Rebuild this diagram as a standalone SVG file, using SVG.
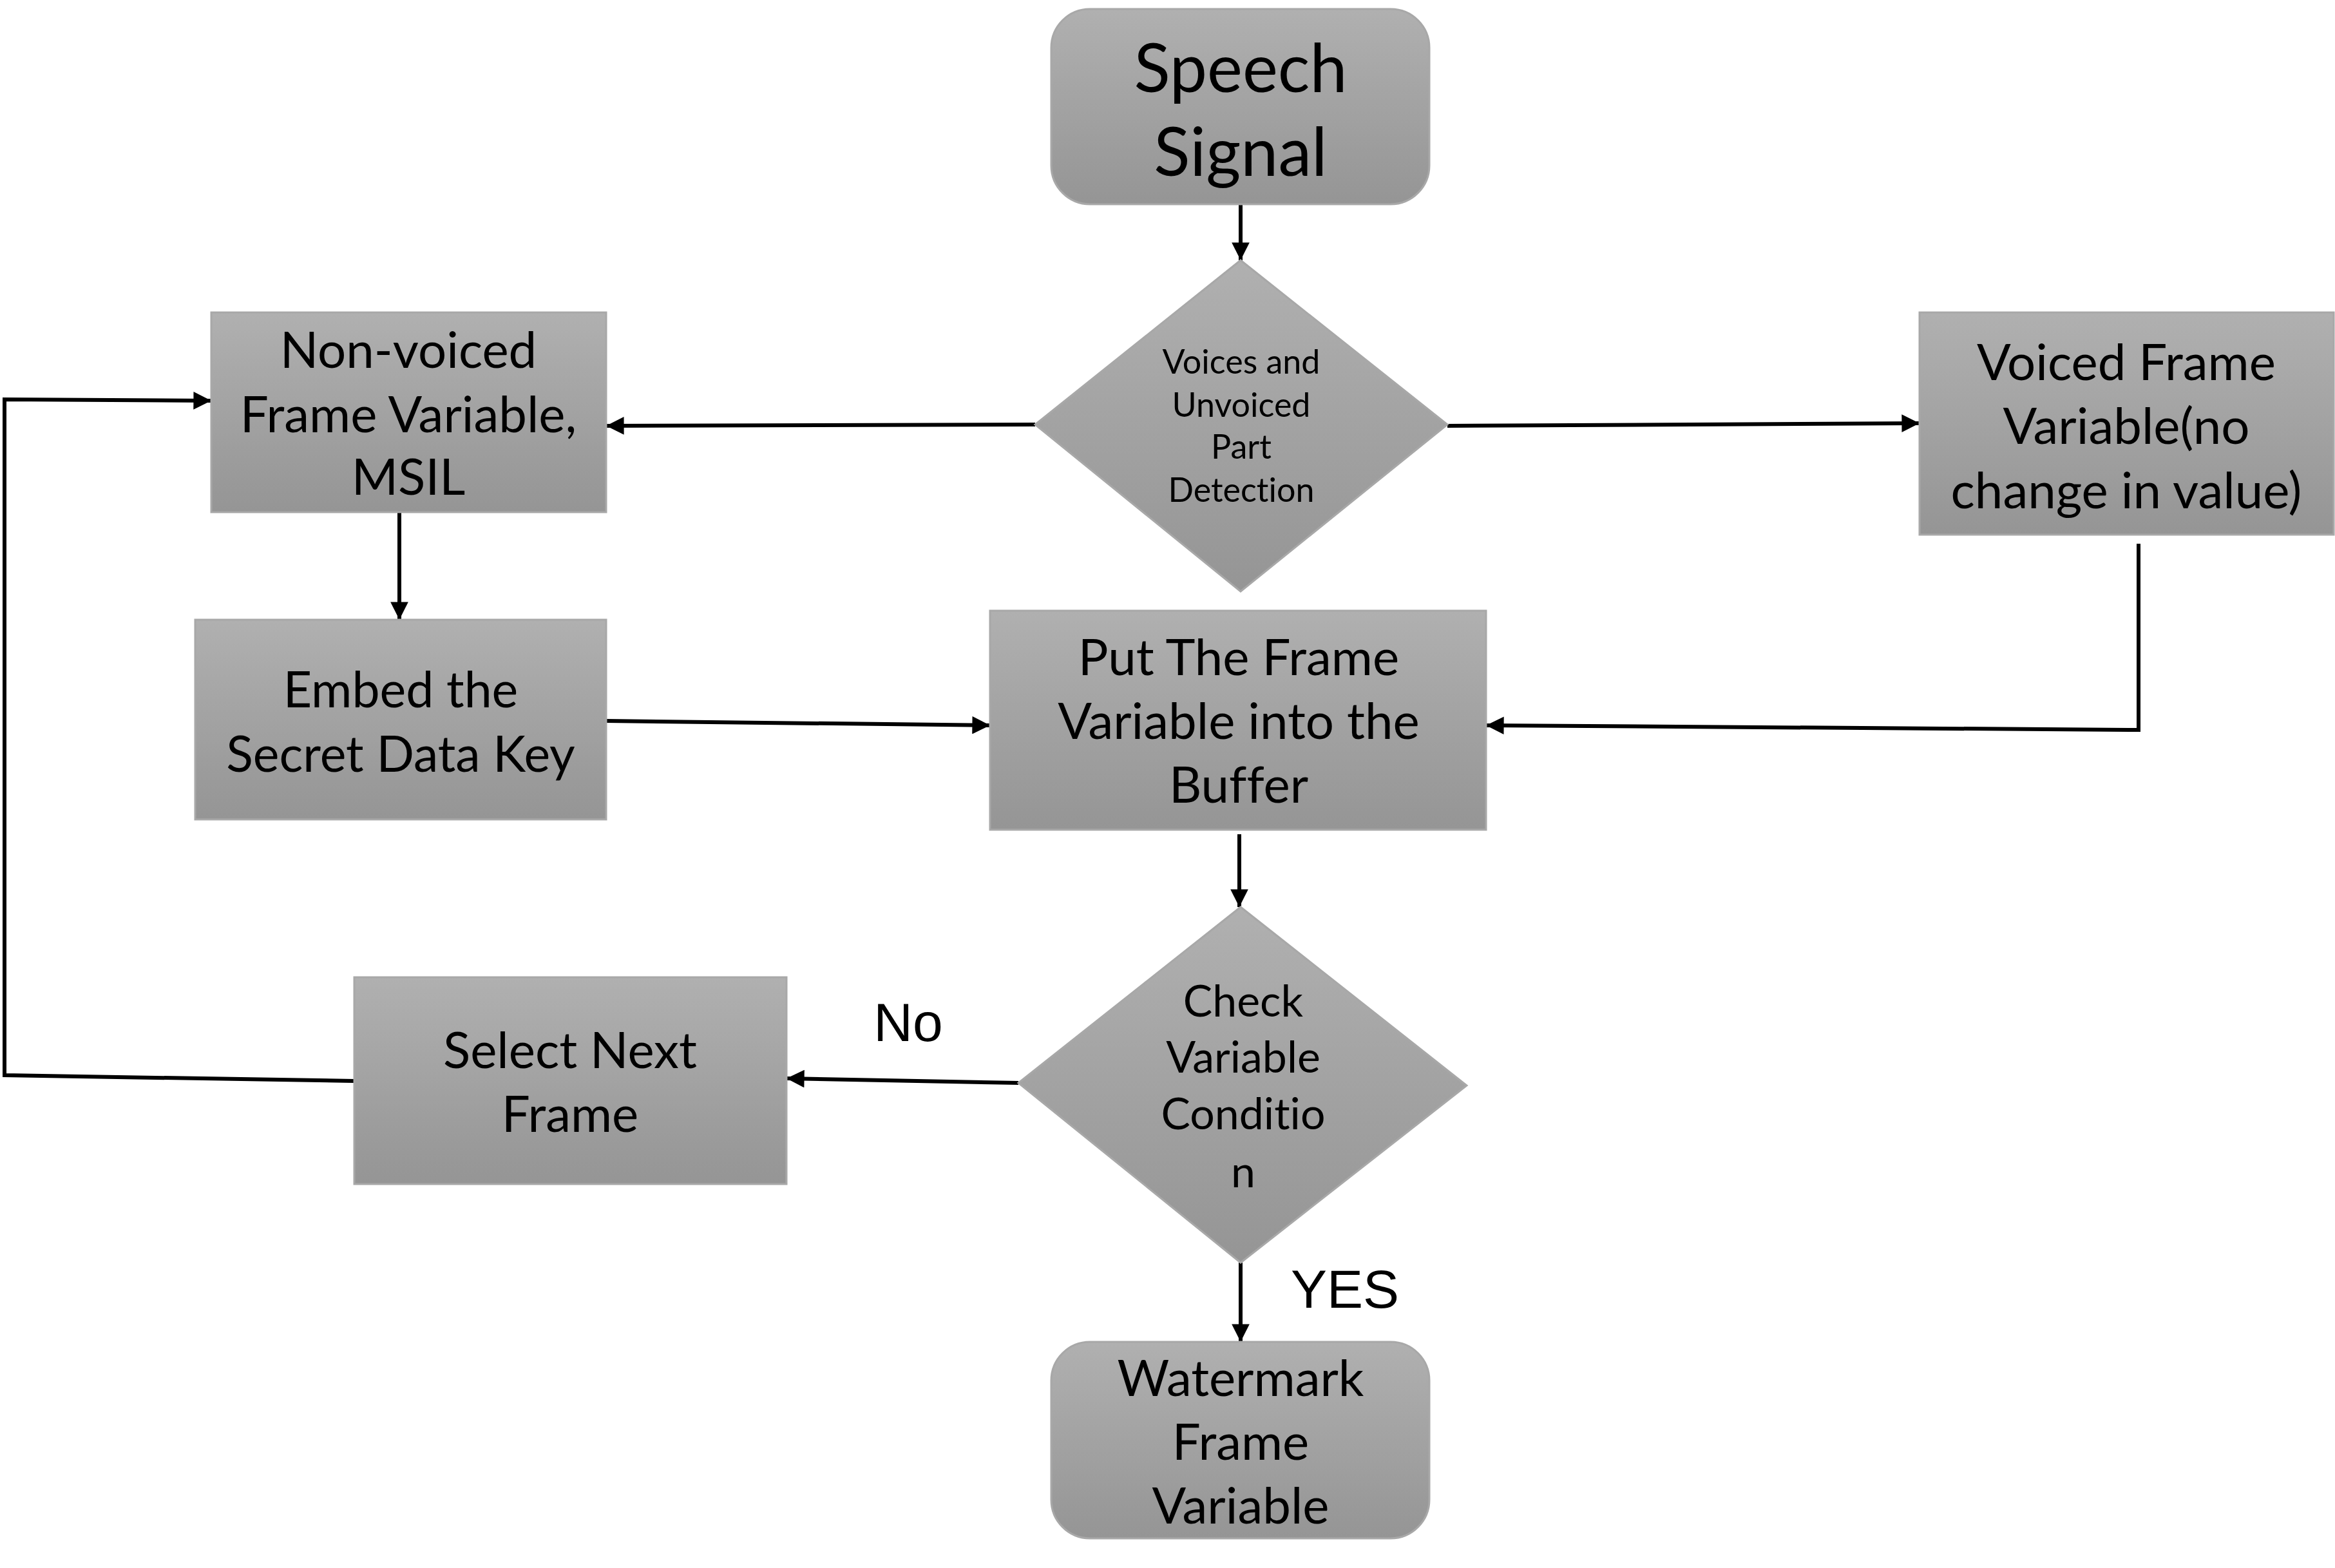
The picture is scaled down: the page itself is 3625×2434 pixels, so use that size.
<svg xmlns="http://www.w3.org/2000/svg" width="3625" height="2434" viewBox="0 0 3625 2434">
<defs>
<linearGradient id="g" x1="0" y1="0" x2="0" y2="1">
<stop offset="0" stop-color="#b0b0b0"/>
<stop offset="1" stop-color="#959595"/>
</linearGradient>
<marker id="ah" viewBox="0 0 10 10" refX="10" refY="5" markerWidth="5" markerHeight="4.6" orient="auto" markerUnits="strokeWidth">
<path d="M0,0 L10,5 L0,10 z" fill="#000"/>
</marker>
<style>
.n{fill:url(#g);stroke:#a8a8a8;stroke-width:3}
.t{font-family:Lato,"Open Sans",sans-serif;fill:#000;text-anchor:middle;font-variant-ligatures:none;font-feature-settings:"liga" 0,"clig" 0}
.l{font-family:"Liberation Sans",Arial,sans-serif;fill:#000;text-anchor:middle;font-size:84px}
.c{fill:none;stroke:#000;stroke-width:6}
.a{marker-end:url(#ah)}
</style>
</defs>
<rect width="3625" height="2434" fill="#fff"/>
<g id="connectors">
<path class="c a" d="M1926,317 L1926,404"/>
<path class="c a" d="M1607,659 L941,661"/>
<path class="c a" d="M2247,661 L2980,657"/>
<path class="c a" d="M620,795 L620,962"/>
<path class="c a" d="M941,1119 L1537,1126"/>
<path class="c a" d="M3320,844 L3320,1133 L2307,1126"/>
<path class="c a" d="M1924,1295 L1924,1408"/>
<path class="c a" d="M1581,1681 L1221,1674"/>
<path class="c a" d="M550,1678 L7,1669 L7,620 L328,622"/>
<path class="c a" d="M1926,1960 L1926,2083"/>
</g>
<g id="speech">
<rect class="n" x="1632" y="14" width="587" height="303" rx="60"/>
<text class="t" font-size="104" x="1926" y="143">Speech</text>
<text class="t" font-size="104" x="1926" y="273">Signal</text>
</g>
<g id="detect">
<polygon class="n" points="1926,404 2247,659 1926,918 1607,659"/>
<text class="t" font-size="52" x="1927" y="580">Voices and</text>
<text class="t" font-size="52" x="1927" y="647">Unvoiced</text>
<text class="t" font-size="52" x="1927" y="712">Part</text>
<text class="t" font-size="52" x="1927" y="779">Detection</text>
</g>
<g id="nonvoiced">
<rect class="n" x="328" y="485" width="613" height="310"/>
<text class="t" font-size="78" x="634" y="571">Non-voiced</text>
<text class="t" font-size="78" x="634" y="671">Frame Variable,</text>
<text class="t" font-size="78" x="634" y="768">MSIL</text>
</g>
<g id="voiced">
<rect class="n" x="2980" y="485" width="643" height="345"/>
<text class="t" font-size="78" x="3301" y="590">Voiced Frame</text>
<text class="t" font-size="78" x="3301" y="689">Variable(no</text>
<text class="t" font-size="78" x="3301" y="789">change in value)</text>
</g>
<g id="embed">
<rect class="n" x="303" y="962" width="638" height="310"/>
<text class="t" font-size="77" x="622" y="1098">Embed the</text>
<text class="t" font-size="77" x="622" y="1198">Secret Data Key</text>
</g>
<g id="buffer">
<rect class="n" x="1537" y="948" width="770" height="340"/>
<text class="t" font-size="78" x="1923" y="1048">Put The Frame</text>
<text class="t" font-size="78" x="1923" y="1147">Variable into the</text>
<text class="t" font-size="78" x="1923" y="1246">Buffer</text>
</g>
<g id="check">
<polygon class="n" points="1926,1408 2277,1685 1926,1960 1581,1681"/>
<text class="t" font-size="68" x="1930" y="1578">Check</text>
<text class="t" font-size="68" x="1930" y="1665">Variable</text>
<text class="t" font-size="68" x="1930" y="1753">Conditio</text>
<text class="t" font-size="68" x="1930" y="1843">n</text>
</g>
<g id="next">
<rect class="n" x="550" y="1517" width="671" height="321"/>
<text class="t" font-size="78" x="885" y="1658">Select Next</text>
<text class="t" font-size="78" x="885" y="1757">Frame</text>
</g>
<g id="watermark">
<rect class="n" x="1632" y="2083" width="587" height="305" rx="60"/>
<text class="t" font-size="78" x="1926" y="2167">Watermark</text>
<text class="t" font-size="78" x="1926" y="2266">Frame</text>
<text class="t" font-size="78" x="1926" y="2365">Variable</text>
</g>
<g id="labels">
<text class="l" x="1410" y="1616">No</text>
<text class="l" x="2088" y="2030">YES</text>
</g>
</svg>
